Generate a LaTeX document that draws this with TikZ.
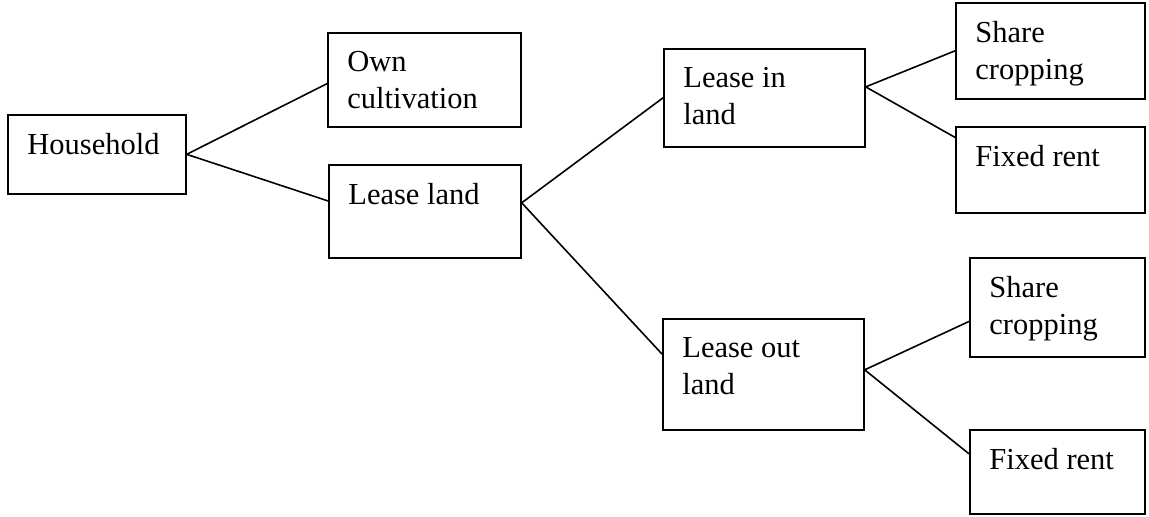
\documentclass[tikz,border=0pt]{standalone}
\usepackage{fontspec}
\setmainfont{Liberation Serif}
\usetikzlibrary{calc}

\begin{document}
\begin{tikzpicture}[x=0.5pt, y=-0.5pt,
		box/.style 2 args={rectangle, draw=black, line width=0.85pt, anchor=north west, inner sep=0pt, minimum width=0.5pt*#1, minimum height=0.5pt*#2},
		txt/.style={anchor=north west, inner sep=0pt, align=left, font=\fontsize{15.25pt}{18.5pt}\selectfont},
		link/.style={draw=black, line width=0.8pt}]
	
	\useasboundingbox (0,0) rectangle (1149,517);
	
	% boxes
	\node[box={178}{79}] (house) at (7,114) {};
	\node[box={193}{94}] (own) at (327,32) {};
	\node[box={192}{93}] (lease) at (328,164) {};
	\node[box={201}{98}] (leasein) at (663,48) {};
	\node[box={201}{111}] (leaseout) at (662,318) {};
	\node[box={189}{96}] (shareA) at (955,2) {};
	\node[box={189}{86}] (fixedA) at (955,126) {};
	\node[box={175}{99}] (shareB) at (969,257) {};
	\node[box={175}{84}] (fixedB) at (969,429) {};
	
	% texts
	\node[txt] (houselbl) at ($(house.north west)+(20,19)$) {Household};
	\node[txt] (ownlbl) at ($(own.north west)+(20,19)$) {Own\\cultivation};
	\node[txt] (leaselbl) at ($(lease.north west)+(20,19)$) {Lease land};
	\node[txt] (leaseinlbl) at ($(leasein.north west)+(20,19)$) {Lease in\\land};
	\node[txt] (leaseoutlbl) at ($(leaseout.north west)+(20,19)$) {Lease out\\land};
	\node[txt] (shareAlbl) at ($(shareA.north west)+(20,19)$) {Share\\cropping};
	\node[txt] (fixedAlbl) at ($(fixedA.north west)+(20,19)$) {Fixed rent};
	\node[txt] (shareBlbl) at ($(shareB.north west)+(20,19)$) {Share\\cropping};
	\node[txt] (fixedBlbl) at ($(fixedB.north west)+(20,19)$) {Fixed rent};
	
	% links
	\draw[link] (house.east) -- ($(own.north west)!.54!(own.south west)$);
	\draw[link] (house.east) -- ($(lease.north west)!.39!(lease.south west)$);
	\draw[link] ($(lease.north east)!.41!(lease.south east)$) -- (leasein.west);
	\draw[link] ($(lease.north east)!.41!(lease.south east)$) -- ($(leaseout.north west)!.32!(leaseout.south west)$);
	\draw[link] ($(leasein.north east)!.39!(leasein.south east)$) -- (shareA.west);
	\draw[link] ($(leasein.north east)!.39!(leasein.south east)$) -- ($(fixedA.north west)!.13!(fixedA.south west)$);
	\draw[link] ($(leaseout.north east)!.46!(leaseout.south east)$) -- ($(shareB.north west)!.64!(shareB.south west)$);
	\draw[link] ($(leaseout.north east)!.46!(leaseout.south east)$) -- ($(fixedB.north west)!.29!(fixedB.south west)$);
	
\end{tikzpicture}
\end{document}
